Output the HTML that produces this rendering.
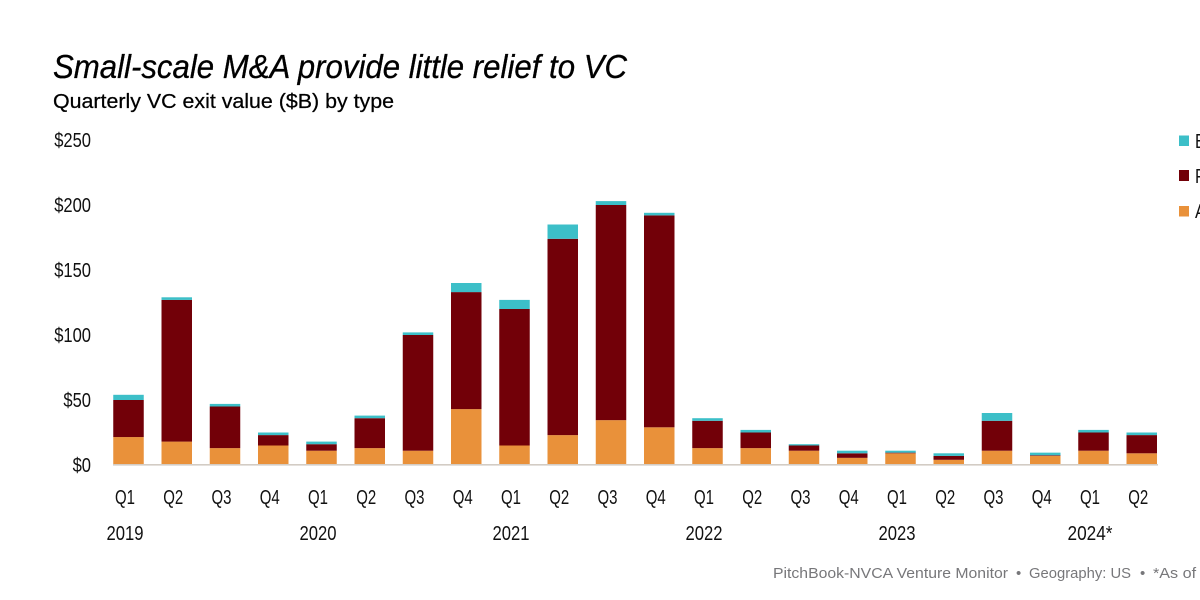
<!DOCTYPE html>
<html>
<head>
<meta charset="utf-8">
<title>Small-scale M&amp;A provide little relief to VC</title>
<style>
html,body{margin:0;padding:0;background:#fff;width:1200px;height:600px;overflow:hidden}
svg{display:block;font-family:"Liberation Sans",sans-serif}
</style>
</head>
<body>
<svg id="chart" xmlns="http://www.w3.org/2000/svg" width="1200" height="600" viewBox="0 0 1200 600">
  <text x="53" y="78" font-size="33" font-style="italic" fill="#000" stroke="#000" stroke-width="0.3" textLength="574" lengthAdjust="spacingAndGlyphs">Small-scale M&amp;A provide little relief to VC</text>
  <text x="53" y="108" font-size="20.5" fill="#000" stroke="#000" stroke-width="0.25" textLength="341" lengthAdjust="spacingAndGlyphs">Quarterly VC exit value ($B) by type</text>
  <g id="y-axis"></g>
  <g id="bars"></g>
  <rect x="113" y="464" width="1045" height="1.6" fill="#d3ccc4"/>
  <g id="x-axis"></g>
  <g>
    <g>
      <rect x="1179" y="135.5" width="10" height="10.5" fill="#3cbfc8"/>
      <text x="1195" y="148" font-size="20" fill="#111" textLength="50" lengthAdjust="spacingAndGlyphs">Buyout</text>
    </g>
    <g>
      <rect x="1179" y="170" width="10" height="11" fill="#720008"/>
      <text x="1195" y="183" font-size="20" fill="#111" textLength="90" lengthAdjust="spacingAndGlyphs">Public listing</text>
    </g>
    <g>
      <rect x="1179" y="206" width="10" height="10.5" fill="#e9913a"/>
      <text x="1195" y="218" font-size="20" fill="#111" textLength="80" lengthAdjust="spacingAndGlyphs">Acquisition</text>
    </g>
  </g>
  <g font-size="15" fill="#77777a">
    <text x="773" y="578" textLength="235" lengthAdjust="spacingAndGlyphs">PitchBook-NVCA Venture Monitor</text>
    <text x="1016" y="578">•</text>
    <text x="1029" y="578" textLength="102" lengthAdjust="spacingAndGlyphs">Geography: US</text>
    <text x="1140" y="578">•</text>
    <text x="1153" y="578" textLength="150" lengthAdjust="spacingAndGlyphs">*As of June 30, 2024</text>
  </g>
</svg>
<script>
const quarters = ["Q1","Q2","Q3","Q4","Q1","Q2","Q3","Q4","Q1","Q2","Q3","Q4","Q1","Q2","Q3","Q4","Q1","Q2","Q3","Q4","Q1","Q2"];
const acquisition = [21.5,18,13,15,11,13,11,43,15,23,34.5,29,13,13,11,5.5,9,4,11,7,11,9];
const publicListing = [28.5,109,32,8,5,23,89,90,105,151,165.5,163,21,12,4,3.5,0.5,3,23,0.5,14,14];
const buyout = [4,2,2,2,2,2,2,7,7,11,3,2,2,2,1,2,1.5,2,6,2,2,2];
const yearLabels = ["2019","2020","2021","2022","2023","2024*"];
const yearStartIndex = [0,4,8,12,16,20];
const yTicks = [0,50,100,150,200,250];

const svgNS = "http://www.w3.org/2000/svg";
const BASE_Y = 465, PX_PER_UNIT = 1.3, FIRST_X = 128.5, STEP_X = 48.25, BAR_W = 30.5;
function yScale(v){ return BASE_Y - v * PX_PER_UNIT; }
function xScale(i){ return FIRST_X + i * STEP_X; }

function make(tag, attrs, parent, content){
  const el = document.createElementNS(svgNS, tag);
  for (const k in attrs) el.setAttribute(k, attrs[k]);
  if (content !== undefined) el.textContent = content;
  parent.appendChild(el);
  return el;
}

const barsG = document.getElementById("bars");
const yG = document.getElementById("y-axis");
const xG = document.getElementById("x-axis");

const seriesDefs = [
  {name:"acquisition", values:acquisition, color:"#e9913a"},
  {name:"public-listing", values:publicListing, color:"#720008"},
  {name:"buyout", values:buyout, color:"#3cbfc8"}
];

quarters.forEach(function(q, i){
  let running = 0;
  seriesDefs.forEach(function(s){
    const v = s.values[i];
    const top = yScale(running + v);
    const bottom = yScale(running);
    const r = make("rect", {x:xScale(i)-BAR_W/2, y:top, width:BAR_W, height:bottom-top, fill:s.color}, barsG);
    
    
    running += v;
  });
  const label = make("text", {x:xScale(i)-3.5, y:504, "font-size":20, fill:"#111", "text-anchor":"middle", textLength:20, lengthAdjust:"spacingAndGlyphs"}, xG, q);
  
  
});

yearLabels.forEach(function(y, i){
  const center = xScale(yearStartIndex[i]) - 3.5;
  const w = y.length > 4 ? 45 : 37;
  const label = make("text", {x:center, y:540, "font-size":20, fill:"#111", "text-anchor":"middle", textLength:w, lengthAdjust:"spacingAndGlyphs"}, xG, y);
  
  
});

yTicks.forEach(function(t){
  const str = "$" + t;
  const w = str.length * 9.2;
  const label = make("text", {x:91, y:yScale(t)+7, "font-size":20, fill:"#111", "text-anchor":"end", textLength:w, lengthAdjust:"spacingAndGlyphs"}, yG, str);
  
  
});
</script>
</body>
</html>
